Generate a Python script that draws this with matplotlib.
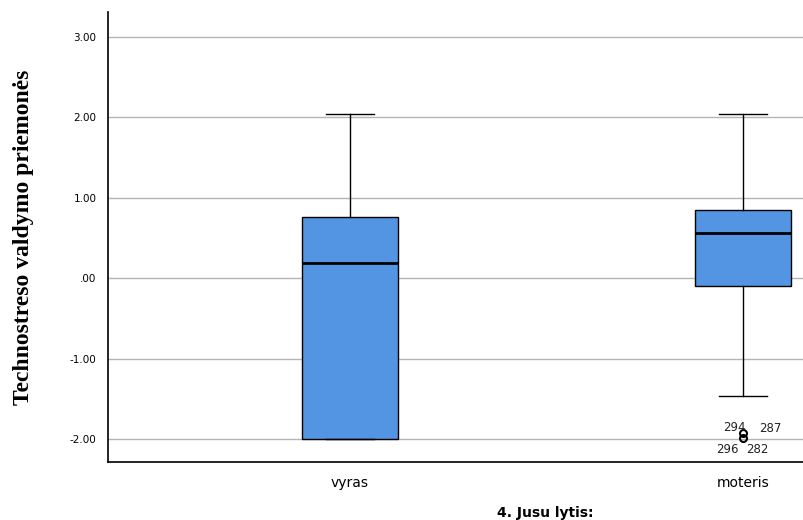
"""Box plot of Technostreso valdymo priemonės by gender."""

import matplotlib.pyplot as plt

# Summary statistics per group
groups = ["vyras", "moteris"]
whisker_low = [-1.99, -1.46]
q1 = [-1.99, -0.09]
medians = [0.19, 0.56]
q3 = [0.76, 0.85]
whisker_high = [2.04, 2.04]

# Outliers in the second group with their case numbers
outlier_values = [-1.92, -1.98]
outlier_cases = ["294", "287", "296", "282"]

stats = []
for i, name in enumerate(groups):
    stats.append({
        "label": name,
        "whislo": whisker_low[i],
        "q1": q1[i],
        "med": medians[i],
        "q3": q3[i],
        "whishi": whisker_high[i],
        "fliers": outlier_values if name == "moteris" else [],
    })

fig = plt.figure(figsize=(8.04, 5.2), dpi=100)
ax = fig.add_axes([0.134, 0.1115, 0.866, 0.8655])

ax.bxp(
    stats,
    positions=[0, 1],
    widths=0.244,
    patch_artist=True,
    boxprops=dict(facecolor="#5394E3", edgecolor="black", linewidth=1),
    medianprops=dict(color="black", linewidth=2),
    whiskerprops=dict(color="black", linewidth=1),
    capprops=dict(color="black", linewidth=1),
    capwidths=0.122,
    flierprops=dict(marker="o", markersize=5, markerfacecolor="none",
                    markeredgecolor="black", markeredgewidth=1.5),
    zorder=3,
)

# Case-number labels around the outliers
label_offsets = [(-0.022, 0.07), (0.07, 0.06), (-0.04, -0.15), (0.035, -0.15)]
for text, (dx, dy), base in zip(outlier_cases, label_offsets,
                                [outlier_values[0], outlier_values[0],
                                 outlier_values[1], outlier_values[1]]):
    ax.text(1 + dx, base + dy, text, fontsize=8.5, ha="center", va="center",
            color="#222222", zorder=4)

ax.set_xlim(-0.616, 1.155)
ax.set_ylim(-2.28, 3.31)
ax.set_yticks([-2, -1, 0, 1, 2, 3])
ax.set_yticklabels(["-2.00", "-1.00", ".00", "1.00", "2.00", "3.00"])
ax.set_xticks([0, 1])
ax.set_xticklabels(groups)
ax.tick_params(axis="y", length=0, pad=8, labelsize=7.5)
ax.tick_params(axis="x", length=0, pad=10, labelsize=10)

ax.grid(axis="y", color="#b4b4b4", linewidth=1, zorder=0)
ax.set_axisbelow(True)
for side in ["top", "right"]:
    ax.spines[side].set_visible(False)
ax.spines["left"].set_linewidth(1.2)
ax.spines["bottom"].set_linewidth(1.2)

ax.set_ylabel("Technostreso valdymo priemonės", fontsize=17,
              fontfamily="Liberation Serif", fontweight="bold")
ax.yaxis.set_label_coords(-0.106, 0.5)
ax.set_xlabel("4. Jusu lytis:", fontsize=10, fontweight="bold")
ax.xaxis.set_label_coords(0.628, -0.098)

fig.savefig("out.png", dpi=100)
